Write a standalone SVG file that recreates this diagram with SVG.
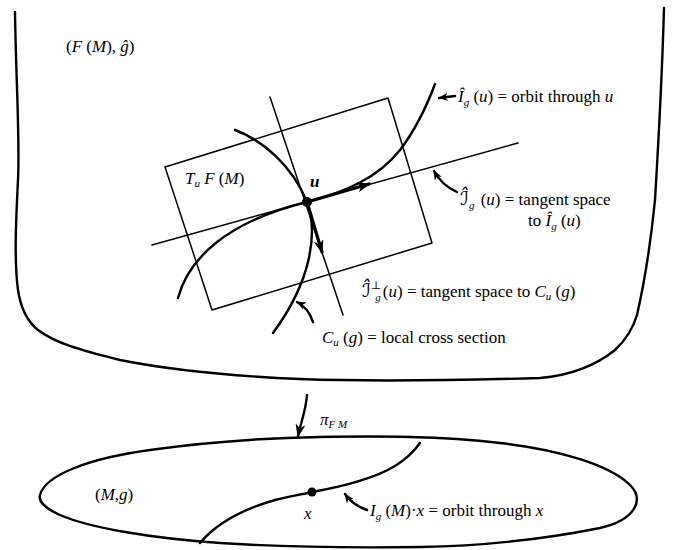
<svg xmlns="http://www.w3.org/2000/svg" width="678" height="550" viewBox="0 0 678 550">
<defs>
<style>
.ln{fill:none;stroke:#000;stroke-width:1.5;stroke-linecap:round;stroke-linejoin:round}
.th{stroke-width:2.4}
.vec{stroke-width:3.2}
.t{font-family:"Liberation Serif","DejaVu Serif",serif;font-size:17px;fill:#000}
.i{font-style:italic}
.s{font-size:11px}
.sc{font-family:"DejaVu Serif","DejaVu Sans",serif;font-size:19px}
</style>
<marker id="vh" viewBox="0 0 14 10" refX="12" refY="5" markerWidth="14" markerHeight="10" markerUnits="userSpaceOnUse" orient="auto"><path d="M0,0 L14,5 L0,10 L4,5 z" fill="#000"/></marker>
<marker id="lh" viewBox="0 0 10 8" refX="9" refY="4" markerWidth="10" markerHeight="8" markerUnits="userSpaceOnUse" orient="auto"><path d="M0,0 L10,4 L0,8 L3,4 z" fill="#000"/></marker>
</defs>
<rect width="678" height="550" fill="#fff"/>
<g id="frame-bundle">
<path class="ln th" d="M15,12 C16,80 20,140 18,180 C16,220 14,260 18,290 C21,310 28,322 38,330 C55,343 80,350 120,360 C170,370 230,376 300,379 C380,382 470,380 540,378 C575,375 600,362 615,350 C628,338 634,325 637,315 C645,280 652,230 655,200 C658,150 662,80 664,8"/>
<text class="t" x="66" y="52">(<tspan class="i">F</tspan> (<tspan class="i">M</tspan>), <tspan class="i">ĝ</tspan>)</text>
</g>
<g id="tangent-plane">
<polygon class="ln" points="165,167 388,98 432,243 212,310"/>
<text class="t" x="185" y="184"><tspan class="i">T</tspan><tspan class="s i" dy="3">u</tspan><tspan dy="-3"> </tspan><tspan class="i">F</tspan> (<tspan class="i">M</tspan>)</text>
</g>
<g id="tangent-line">
<path class="ln" d="M152,245 L518,143"/>
</g>
<g id="normal-line">
<path class="ln" d="M270,97 L343,315"/>
</g>
<g id="orbit-u">
<path class="ln th" d="M178,298 C188,260 225,222 307,202 C345,192 378,178 400,150 C413,133 426,108 435,84"/>
</g>
<g id="cross-section">
<path class="ln th" d="M235,130 C262,140 292,165 307,202 C318,232 312,280 273,333"/>
</g>
<g id="point-u">
<circle cx="307" cy="202" r="5" fill="#000"/>
<text class="t i" x="310" y="187" font-weight="bold">u</text>
</g>
<g id="base-manifold">
<path class="ln th" d="M40,495 C45,475 90,458 150,450 C200,443 260,438 320,437 C380,436 440,436 500,443 C560,450 610,465 630,485 C645,500 635,520 600,528 C540,540 480,546 420,547 C350,548 280,547 220,543 C150,538 90,528 60,515 C45,508 38,502 40,495 Z"/>
<text class="t" x="95" y="500">(<tspan class="i">M</tspan>,<tspan class="i">g</tspan>)</text>
</g>
<g id="orbit-x">
<path class="ln th" d="M200,543 C215,525 240,510 275,500 C295,495 305,494 312,492 C340,487 375,478 395,466 C408,458 415,450 420,443"/>
<circle cx="312" cy="492" r="4.5" fill="#000"/>
<text class="t i" x="304" y="519">x</text>
</g>
<g id="labels">
<text class="t" x="458" y="102"><tspan class="i">Î</tspan><tspan class="s i" dy="4">g</tspan><tspan dy="-4"> (</tspan><tspan class="i">u</tspan>) = orbit through <tspan class="i">u</tspan></text>
<text class="t" x="460" y="205"><tspan class="i sc">ℐ̂</tspan><tspan class="s i" dy="4">g</tspan><tspan dy="-4" dx="2"> (</tspan><tspan class="i">u</tspan>) = tangent space</text>
<text class="t" x="528" y="226">to <tspan class="i">Î</tspan><tspan class="s i" dy="4">g</tspan><tspan dy="-4"> (</tspan><tspan class="i">u</tspan>)</text>
<text class="t" x="362" y="297"><tspan class="i sc">ℐ̂</tspan><tspan class="s" font-size="9" dy="-8">⊥</tspan><tspan class="s i" dx="-6" dy="12">g</tspan><tspan dy="-4" dx="2">(</tspan><tspan class="i">u</tspan>) = tangent space to <tspan class="i">C</tspan><tspan class="s i" dy="3">u</tspan><tspan dy="-3"> (</tspan><tspan class="i">g</tspan>)</text>
<text class="t" x="322" y="343"><tspan class="i">C</tspan><tspan class="s i" dy="3">u</tspan><tspan dy="-3"> (</tspan><tspan class="i">g</tspan>) = local cross section</text>
<text class="t" x="320" y="425"><tspan class="i">π</tspan><tspan class="s i" dy="3">F M</tspan></text>
<text class="t" x="370" y="516"><tspan class="i">I</tspan><tspan class="s i" dy="4">g</tspan><tspan dy="-4"> (</tspan><tspan class="i">M</tspan>)·<tspan class="i">x</tspan> = orbit through <tspan class="i">x</tspan></text>
</g>
<g id="connectors">
<path class="ln vec" d="M307,202 L369,184" marker-end="url(#vh)"/>
<path class="ln vec" d="M307,202 L322,252" marker-end="url(#vh)"/>
<path class="ln th" d="M307,395 C306,410 301,422 298,436" marker-end="url(#vh)"/>
<path class="ln th" d="M455,96 L439,98" marker-end="url(#lh)"/>
<path class="ln th" d="M457,192 C448,188 440,182 434,171" marker-end="url(#lh)"/>
<path class="ln th" d="M313,322 C310,313 305,306 297,302" marker-end="url(#lh)"/>
<path class="ln th" d="M367,510 C358,507 350,501 345,494" marker-end="url(#lh)"/>
</g>
</svg>
